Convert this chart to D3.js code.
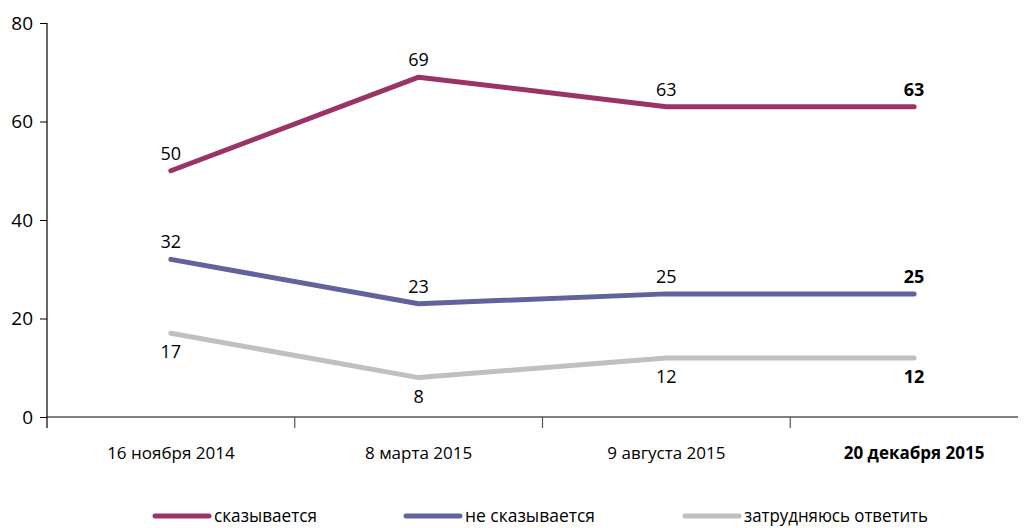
<!DOCTYPE html>
<html><head><meta charset="utf-8">
<script src="https://cdn.jsdelivr.net/npm/d3@7"></script>
<style>
body{margin:0;background:#fff;}
text{font-family:"Open Sans","Noto Sans",sans-serif;fill:#000;}
</style></head><body>
<svg id="c" width="1029" height="528"></svg>
<script>
const categories = ["16 ноября 2014","8 марта 2015","9 августа 2015","20 декабря 2015"];
const seriesNames = ["сказывается","не сказывается","затрудняюсь ответить"];
const affects = [50,69,63,63];
const notAffects = [32,23,25,25];
const hardToSay = [17,8,12,12];
const yTicks = [0,20,40,60,80];
const colors = ["#9b3466","#62629c","#c0c0c0"];

(function(){
const series = [
  {name:seriesNames[0], values:affects, color:colors[0], pos:"above"},
  {name:seriesNames[1], values:notAffects, color:colors[1], pos:"above"},
  {name:seriesNames[2], values:hardToSay, color:colors[2], pos:"below"}
];

const svg = d3.select("#c");
const mLeft = 47, bandW = 247.75, mTop = 23, mBottom = 417;
const x = d3.scaleBand().domain(categories).range([mLeft, mLeft + bandW*4]);
const y = d3.scaleLinear().domain([0,80]).range([mBottom, mTop]);

// y axis
const ya = svg.append("g").attr("transform",`translate(${mLeft},0)`)
  .call(d3.axisLeft(y).tickValues(yTicks).tickSize(7).tickPadding(7));
ya.select(".domain").remove();
ya.selectAll(".tick line").attr("stroke","#000");
ya.selectAll(".tick text").style("font-size","19px").attr("fill","#000");
svg.append("line").attr("x1",mLeft).attr("x2",mLeft).attr("y1",mTop).attr("y2",428)
  .attr("stroke","#000").attr("stroke-width",1.2);

// x axis
svg.append("line").attr("x1",mLeft).attr("x2",1018).attr("y1",mBottom).attr("y2",mBottom)
  .attr("stroke","#000").attr("stroke-width",1.2);
categories.slice(1).forEach(c=>{
  svg.append("line").attr("x1",x(c)).attr("x2",x(c)).attr("y1",mBottom).attr("y2",428)
    .attr("stroke","#555").attr("stroke-width",1.2);
});
svg.append("g").selectAll("text").data(categories).join("text")
  .attr("x",d=>x(d)+x.bandwidth()/2).attr("y",459)
  .attr("text-anchor","middle").style("font-size","17px")
  .style("font-weight",(d,i)=>i===3?"bold":"normal")
  .text(d=>d);

const line = d3.line().x((d,i)=>x(categories[i])+x.bandwidth()/2).y(d=>y(d));
series.forEach(s=>{
  svg.append("path").datum(s.values).attr("d",line).attr("fill","none")
    .attr("stroke",s.color).attr("stroke-width",5).attr("stroke-linecap","round").attr("stroke-linejoin","round");
  svg.append("g").selectAll("text").data(s.values).join("text")
    .attr("x",(d,i)=>x(categories[i])+x.bandwidth()/2)
    .attr("y",d=>s.pos==="above"? y(d)-11 : y(d)+25)
    .attr("text-anchor","middle").style("font-size","18px")
    .style("font-weight",(d,i)=>i===3?"bold":"normal")
    .text(d=>d);
});

// legend
const legX = [155,406,685];
const legW = [103,130,184];
series.forEach((s,i)=>{
  const g = svg.append("g").attr("transform",`translate(${legX[i]},516)`);
  g.append("line").attr("x1",0).attr("x2",54).attr("y1",0).attr("y2",0)
    .attr("stroke",s.color).attr("stroke-width",5).attr("stroke-linecap","round");
  g.append("text").attr("x",59).attr("y",6)
    .attr("textLength",legW[i]).attr("lengthAdjust","spacingAndGlyphs")
    .style("font-size","18px").text(s.name);
});
})();
</script>
</body></html>
